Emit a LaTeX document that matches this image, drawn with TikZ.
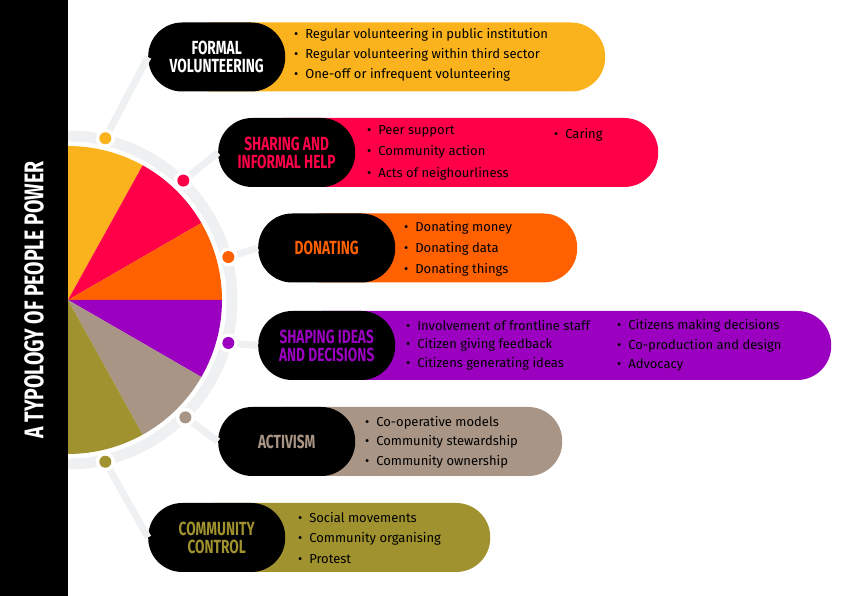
\documentclass[tikz,border=0pt]{standalone}
\usepackage{fontspec}
\setmainfont{Fira Sans}
\usetikzlibrary{positioning, calc}
\definecolor{cyel}{HTML}{FBB31D}
\definecolor{cred}{HTML}{FF0048}
\definecolor{corg}{HTML}{FF6000}
\definecolor{cpur}{HTML}{9B00C0}
\definecolor{ctau}{HTML}{A89585}
\definecolor{coli}{HTML}{A0922E}
\definecolor{cring}{HTML}{EEF0F1}
\newcommand{\headtxt}[1]{\scalebox{0.72}[1]{\bfseries #1}}
\tikzset{
  blackbox/.style={rectangle, fill=black, rounded corners=34pt, minimum width=137pt, minimum height=69pt, anchor=west, align=center, font=\fontsize{19}{20}\selectfont, inner sep=0pt},
  pill/.style={rectangle, rounded corners=34pt, minimum height=69pt, anchor=west, inner sep=0pt},
  itemtxt/.style={anchor=west, font=\fontsize{13}{14}\selectfont, inner sep=0pt},
  hubdot/.style={circle, fill=white, minimum size=19pt, inner sep=0pt},
  spoke/.style={cring, line width=7pt},
}
\begin{document}
\begin{tikzpicture}[x=1pt, y=1pt]
  \useasboundingbox (0,0) rectangle (843,596);
  \coordinate (c) at (68,296);
  % pie
  \fill[cyel] (c) -- ++(90:154) arc (90:61:154) -- cycle;
  \fill[cred] (c) -- ++(61:154) arc (61:30:154) -- cycle;
  \fill[corg] (c) -- ++(30:154) arc (30:0:154) -- cycle;
  \fill[cpur] (c) -- ++(0:154) arc (0:-30:154) -- cycle;
  \fill[ctau] (c) -- ++(-30:154) arc (-30:-61:154) -- cycle;
  \fill[coli] (c) -- ++(-61:154) arc (-61:-90:154) -- cycle;
  \draw[cring, line width=11pt] (c) ++(90:164) arc (90:-90:164);
  % hub dots
  \node[hubdot] (d1) at ($(c)+(77:166)$) {};
  \node[hubdot] (d2) at ($(c)+(46:166)$) {};
  \node[hubdot] (d3) at ($(c)+(15:166)$) {};
  \node[hubdot] (d4) at ($(c)+(-15:166)$) {};
  \node[hubdot] (d5) at ($(c)+(-45:166)$) {};
  \node[hubdot] (d6) at ($(c)+(-77:166)$) {};
  % coloured pills
  \node[pill, fill=cyel, minimum width=427pt] (p1) at (178,539) {};
  \node[pill, fill=cred, minimum width=410pt] (p2) at (248,443.5) {};
  \node[pill, fill=corg, minimum width=289pt] (p3) at (288,348) {};
  \node[pill, fill=cpur, minimum width=543pt] (p4) at (288,250.5) {};
  \node[pill, fill=ctau, minimum width=314pt] (p5) at (248,154.5) {};
  \node[pill, fill=coli, minimum width=312pt] (p6) at (178,58.5) {};
  % black boxes
  \node[blackbox, text=white] (b1) at (148,539) {\headtxt{FORMAL}\\[-2pt]\headtxt{VOLUNTEERING}};
  \node[blackbox, text=cred] (b2) at (218,443.5) {\headtxt{SHARING AND}\\[-2pt]\headtxt{INFORMAL HELP}};
  \node[blackbox, text=corg] (b3) at (258,348) {\headtxt{DONATING}};
  \node[blackbox, text=cpur] (b4) at (258,250.5) {\headtxt{SHAPING IDEAS}\\[-2pt]\headtxt{AND DECISIONS}};
  \node[blackbox, text=ctau] (b5) at (218,154.5) {\headtxt{ACTIVISM}};
  \node[blackbox, text=coli] (b6) at (148,58.5) {\headtxt{COMMUNITY}\\[-2pt]\headtxt{CONTROL}};
  % spokes
  \foreach \i in {1,...,6}{
    \draw[spoke] (d\i.center) -- (b\i.west);
  }
  \foreach \i/\col in {1/cyel,2/cred,3/corg,4/cpur,5/ctau,6/coli}{
    \node[hubdot] at (d\i) {};
    \fill[\col] (d\i) circle (6pt);
  }
  % items
  \node[itemtxt] (i11) at (294,561) {\textbullet\ \ Regular volunteering in public institution};
  \node[itemtxt] (i12) at (294,541) {\textbullet\ \ Regular volunteering within third sector};
  \node[itemtxt] (i13) at (294,521) {\textbullet\ \ One-off or infrequent volunteering};
  \node[itemtxt] (i21) at (367,465) {\textbullet\ \ Peer support};
  \node[itemtxt] (i22) at (367,444) {\textbullet\ \ Community action};
  \node[itemtxt] (i23) at (367,422) {\textbullet\ \ Acts of neighourliness};
  \node[itemtxt] (i24) at (554,461) {\textbullet\ \ Caring};
  \node[itemtxt] (i31) at (404,368) {\textbullet\ \ Donating money};
  \node[itemtxt] (i32) at (404,347) {\textbullet\ \ Donating data};
  \node[itemtxt] (i33) at (404,326) {\textbullet\ \ Donating things};
  \node[itemtxt] (i41) at (406,270) {\textbullet\ \ Involvement of frontline staff};
  \node[itemtxt] (i42) at (406,251) {\textbullet\ \ Citizen giving feedback};
  \node[itemtxt] (i43) at (406,232) {\textbullet\ \ Citizens generating ideas};
  \node[itemtxt] (i44) at (617,270) {\textbullet\ \ Citizens making decisions};
  \node[itemtxt] (i45) at (617,250) {\textbullet\ \ Co-production and design};
  \node[itemtxt] (i46) at (617,231) {\textbullet\ \ Advocacy};
  \node[itemtxt] (i51) at (365,173) {\textbullet\ \ Co-operative models};
  \node[itemtxt] (i52) at (365,154) {\textbullet\ \ Community stewardship};
  \node[itemtxt] (i53) at (365,134) {\textbullet\ \ Community ownership};
  \node[itemtxt] (i61) at (298,78) {\textbullet\ \ Social movements};
  \node[itemtxt] (i62) at (298,57) {\textbullet\ \ Community organising};
  \node[itemtxt] (i63) at (298,37) {\textbullet\ \ Protest};
  % side bar
  \fill[black] (0,0) rectangle (68,596);
  \node[rotate=90, text=white, font=\fontsize{27}{29}\selectfont] (ttl) at (34,296) {\scalebox{0.72}[1]{\bfseries A TYPOLOGY OF PEOPLE POWER}};
\end{tikzpicture}
\end{document}
